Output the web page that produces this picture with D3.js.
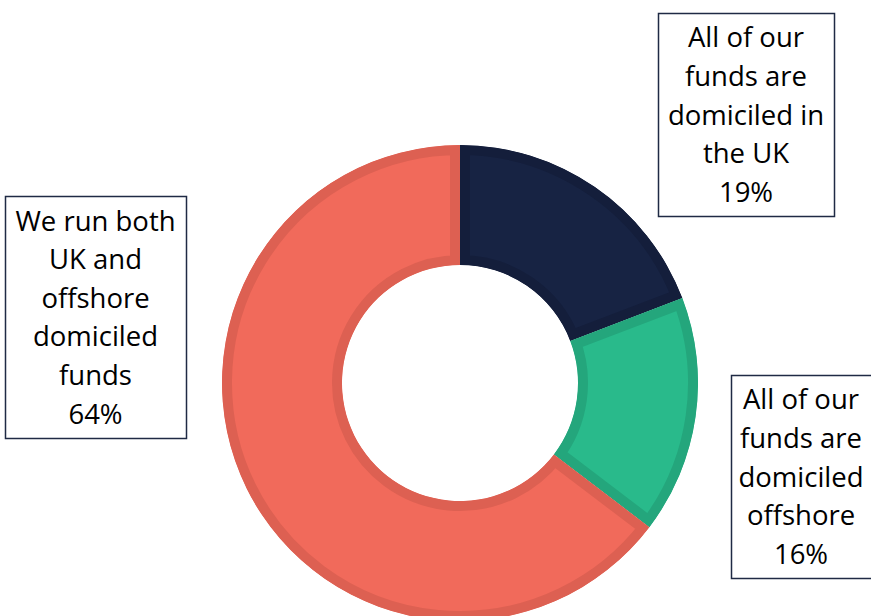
<!DOCTYPE html>
<html>
<head>
<meta charset="utf-8">
<script src="https://cdn.jsdelivr.net/npm/d3@7"></script>
<style>
  html, body { margin: 0; padding: 0; background: #ffffff; }
  svg { display: block; }
  text { font-family: "Open Sans", Lato, sans-serif; fill: #000; }
</style>
</head>
<body>
<svg id="chart" width="871" height="616"></svg>
<script>
// Survey answers and their shares (%)
const categories = [
  "All of our funds are domiciled in the UK",
  "All of our funds are domiciled offshore",
  "We run both UK and offshore domiciled funds"
];
const values = [19, 16, 64];
const labelLines = [
  ["All of our", "funds are", "domiciled in", "the UK"],
  ["All of our", "funds are", "domiciled", "offshore"],
  ["We run both", "UK and", "offshore", "domiciled", "funds"]
];

// Palette: slice fill and darker inner edge
const fills = ["#172343", "#29BA8B", "#F16A5B"];
const edges = ["#141E3B", "#24A67C", "#DD6052"];

// Callout boxes (x, y, w, h)
const boxes = [
  { x: 658, y: 13, w: 176, h: 203 },
  { x: 731, y: 375, w: 146, h: 203 },
  { x: 5, y: 196, w: 181, h: 242 }
];

const svg = d3.select("#chart");
const defs = svg.append("defs");
const cx = 460, cy = 383;
const edgeW = 10; // visible width of the inner edge band

const pie = d3.pie().sort(null).value(d => d.value);
const arc = d3.arc().innerRadius(118).outerRadius(238);

const data = categories.map((c, i) => ({ cat: c, value: values[i], i }));
const arcs = pie(data);

// each slice clipped to itself so its edge band sits inside the slice
defs.selectAll("clipPath")
  .data(arcs)
  .join("clipPath")
  .attr("id", d => "slice-clip-" + d.data.i)
  .append("path")
  .attr("d", arc);

svg.append("g")
  .attr("transform", `translate(${cx},${cy})`)
  .selectAll("path")
  .data(arcs)
  .join("path")
  .attr("d", arc)
  .attr("clip-path", d => `url(#slice-clip-${d.data.i})`)
  .attr("fill", d => fills[d.data.i])
  .attr("stroke", d => edges[d.data.i])
  .attr("stroke-width", edgeW * 2)
  .attr("stroke-linejoin", "miter");

const fontSize = 27.5;
const lineH = 38.6;

data.forEach((d, i) => {
  const b = boxes[i];
  const g = svg.append("g");
  g.append("rect")
    .attr("x", b.x + 0.5).attr("y", b.y + 0.5)
    .attr("width", b.w).attr("height", b.h)
    .attr("fill", "#fff")
    .attr("stroke", "#1F2A44")
    .attr("stroke-width", 1.5);
  const lines = labelLines[i].concat([d.value + "%"]);
  const totalH = lineH * (lines.length - 1);
  const midY = b.y + b.h / 2;
  const firstBase = midY - totalH / 2 + fontSize * 0.37;
  const t = g.append("text")
    .attr("text-anchor", "middle")
    .attr("font-size", fontSize);
  lines.forEach((ln, k) => {
    t.append("tspan")
      .attr("x", b.x + b.w / 2 + (i === 1 ? -3 : 0))
      .attr("y", firstBase + k * lineH)
      .text(ln);
  });
});
</script>
</body>
</html>
